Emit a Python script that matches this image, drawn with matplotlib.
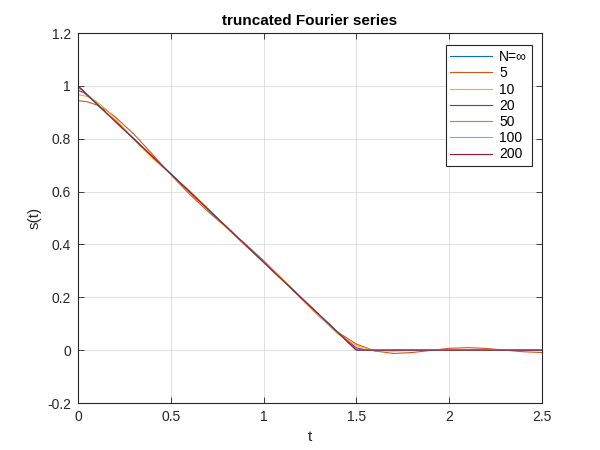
import matplotlib
matplotlib.use("Agg")
import matplotlib.pyplot as plt

plt.rcParams['font.family'] = ['Liberation Sans', 'DejaVu Sans']

# N = infinity (ideal signal)
t_inf = [0.0, 1.5, 2.5]
s_inf = [1.0, 0.0, 0.0]

# N = 5
t_5 = [0.0, 0.05, 0.1, 0.15, 0.2, 0.3, 0.4, 0.5, 0.6, 0.7, 0.8, 0.9, 1.0, 1.1, 1.2, 1.3,
       1.4, 1.5, 1.6, 1.7, 1.8, 1.9, 2.0, 2.1, 2.2, 2.3, 2.4, 2.5]
s_5 = [0.944, 0.940, 0.928, 0.909, 0.883, 0.818, 0.742, 0.664, 0.591, 0.525, 0.464, 0.403,
       0.339, 0.269, 0.197, 0.128, 0.068, 0.023, -0.003, -0.0125, -0.009, -0.001, 0.007,
       0.0095, 0.0065, 0.0, -0.006, -0.009]

# N = 10
t_10 = [0.0, 0.05, 0.1, 0.15, 0.2, 0.3, 0.4, 0.5, 0.6, 0.7, 0.8, 0.9, 1.0, 1.1, 1.2, 1.3,
        1.4, 1.5, 1.6, 1.7, 1.8, 1.9, 2.0, 2.1, 2.2, 2.3, 2.4, 2.5]
s_10 = [0.967, 0.960, 0.941, 0.912, 0.876, 0.798, 0.727, 0.666, 0.605, 0.536, 0.464, 0.396,
        0.334, 0.271, 0.202, 0.128, 0.061, 0.017, -0.002, -0.004, 0.0, 0.002, 0.001,
        -0.001, -0.001, 0.0, 0.0, 0.0]

# N = 20
t_20 = [0.0, 0.03, 0.06, 0.1, 0.2, 0.5, 1.0, 1.4, 1.45, 1.5, 1.55, 1.6, 1.7, 2.0, 2.5]
s_20 = [0.983, 0.975, 0.958, 0.932, 0.866, 0.667, 0.333, 0.068, 0.036, 0.009, 0.001,
        -0.002, 0.0, 0.0, 0.0]

# N = 50
t_50 = [0.0, 0.02, 0.04, 0.1, 0.5, 1.0, 1.46, 1.48, 1.5, 1.52, 1.56, 2.0, 2.5]
s_50 = [0.993, 0.986, 0.973, 0.933, 0.667, 0.333, 0.027, 0.014, 0.004, 0.0, 0.0, 0.0, 0.0]

# N = 100
t_100 = [0.0, 0.01, 0.02, 0.1, 0.5, 1.0, 1.48, 1.49, 1.5, 1.51, 1.53, 2.0, 2.5]
s_100 = [0.997, 0.993, 0.987, 0.933, 0.667, 0.333, 0.013, 0.007, 0.002, 0.0, 0.0, 0.0, 0.0]

# N = 200
t_200 = [0.0, 0.005, 0.01, 0.1, 0.5, 1.0, 1.49, 1.495, 1.5, 1.505, 1.51, 2.0, 2.5]
s_200 = [0.998, 0.996, 0.993, 0.933, 0.667, 0.333, 0.007, 0.003, 0.001, 0.0, 0.0, 0.0, 0.0]

labels = ['N=\u221e', '5', '10', '20', '50', '100', '200']
colors = ['#0072BD', '#D95319', '#EDB120', '#7E2F8E', '#77AC30', '#4DBEEE', '#A2142F']

series = [(t_inf, s_inf), (t_5, s_5), (t_10, s_10), (t_20, s_20),
          (t_50, s_50), (t_100, s_100), (t_200, s_200)]

fig = plt.figure(figsize=(6, 4.5), dpi=100)
ax = fig.add_axes([0.13, 0.1044, 0.7733, 0.8222])

for (t, s), lab, c in zip(series, labels, colors):
    ax.plot(t, s, color=c, linewidth=0.8, label=lab)

ax.set_xlim(0, 2.5)
ax.set_ylim(-0.2, 1.2)
ax.set_xticks([0, 0.5, 1, 1.5, 2, 2.5])
ax.set_xticklabels(['0', '0.5', '1', '1.5', '2', '2.5'])
ax.set_yticks([-0.2, 0, 0.2, 0.4, 0.6, 0.8, 1, 1.2])
ax.set_yticklabels(['-0.2', '0', '0.2', '0.4', '0.6', '0.8', '1', '1.2'])
ax.grid(True, color='#dcdcdc', linewidth=0.6)
ax.set_axisbelow(True)
ax.tick_params(direction='in', top=True, right=True, length=4, width=0.6,
               labelsize=10, colors='#262626', pad=5)
for sp in ax.spines.values():
    sp.set_color('#262626')
    sp.set_linewidth(0.8)

ax.set_xlabel('t', fontsize=11, color='#262626')
ax.set_ylabel('s(t)', fontsize=11, color='#262626')
ax.set_title('truncated Fourier series', fontsize=11, fontweight='bold', color='black')

leg = ax.legend(loc='upper right', bbox_to_anchor=(0.978, 0.967), fancybox=False,
                edgecolor='#262626', framealpha=1, fontsize=10, handlelength=3.0,
                handletextpad=0.5, labelspacing=0.16, borderpad=0.35, borderaxespad=0)
leg.get_frame().set_linewidth(0.8)

fig.savefig('out.png', dpi=100)
